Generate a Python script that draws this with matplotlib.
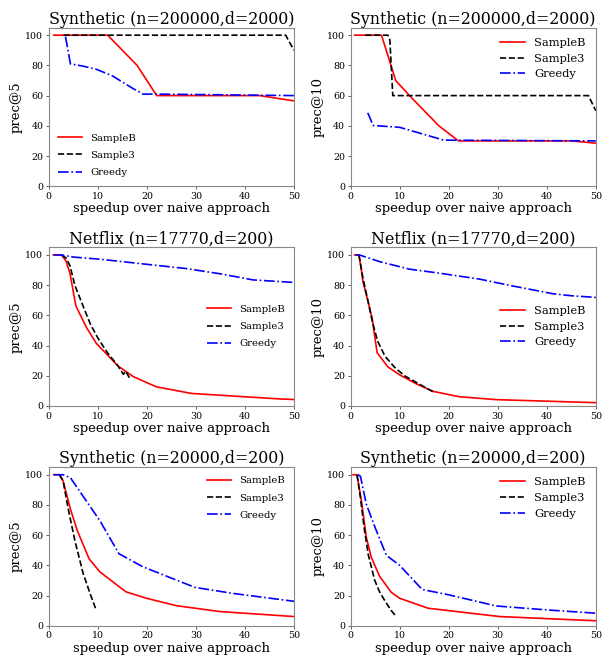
"""Precision vs. speedup for the three sampling methods on three datasets."""

import matplotlib
matplotlib.use("Agg")
import matplotlib.pyplot as plt

plt.rcParams["font.family"] = "DejaVu Serif"

TITLES = ["Synthetic (n=200000,d=2000)", "Netflix (n=17770,d=200)",
          "Synthetic (n=20000,d=200)"]
YLABELS = ["prec@5", "prec@10"]
METHODS = ["SampleB", "Sample3", "Greedy"]

# --- Synthetic n=200000 d=2000 ---
syn_big_p5_sampleb_x = [1, 12, 18, 22, 43, 50]
syn_big_p5_sampleb_y = [100, 100, 80, 60, 60, 56.5]
syn_big_p5_sample3_x = [3, 48.3, 50]
syn_big_p5_sample3_y = [100, 100, 90]
syn_big_p5_greedy_x = [3.4, 4.4, 7, 9.8, 13, 17, 19.2, 22, 50]
syn_big_p5_greedy_y = [99, 81, 79.5, 77.3, 73, 65, 61, 61, 60]

syn_big_p10_sampleb_x = [0.8, 6.3, 9.2, 12, 18, 22, 45, 50]
syn_big_p10_sampleb_y = [100, 100, 70, 60, 40, 30, 30, 28.5]
syn_big_p10_sample3_x = [3, 7.6, 8.0, 8.6, 48.5, 50]
syn_big_p10_sample3_y = [100, 100, 97, 60, 60, 50]
syn_big_p10_greedy_x = [3.5, 4.6, 10, 19, 50]
syn_big_p10_greedy_y = [48.6, 40.2, 39, 30.5, 30]

# --- Netflix ---
netflix_p5_sampleb_x = [0.9, 2.6, 3.5, 4.3, 5.5, 7.7, 9.7, 14.1, 17.2,
                        21.9, 29.1, 47.4, 50]
netflix_p5_sampleb_y = [100, 100, 96, 88, 66.4, 51.8, 41.4, 26.5, 19.5,
                        12.7, 8.3, 4.6, 4.3]
netflix_p5_sample3_x = [2.6, 3.5, 4.3, 5.3, 7, 8.5, 10, 12, 14, 14.6,
                        15.2, 15.7, 16.5]
netflix_p5_sample3_y = [100, 98, 93, 80, 66, 54, 45, 35, 27, 24, 21, 23,
                        18.2]
netflix_p5_greedy_x = [1, 2.5, 5, 10.4, 20, 28, 35, 41.6, 50]
netflix_p5_greedy_y = [100, 100, 98.6, 97.2, 93.8, 91, 87.5, 83.5, 81.8]

netflix_p10_sampleb_x = [0.8, 1.7, 2.2, 2.5, 3.5, 4.4, 5.4, 7.6, 10,
                         13.5, 16.8, 22.2, 29.7, 50]
netflix_p10_sampleb_y = [100, 100, 90, 82.4, 70, 57.7, 35.3, 25.9, 20.6,
                         14.5, 9.7, 6.1, 4.2, 2.2]
netflix_p10_sample3_x = [1.7, 2.5, 3.5, 4.5, 5.5, 7, 9, 11, 14, 16.8]
netflix_p10_sample3_y = [100, 85, 70, 55, 43, 33, 25.5, 20, 14.5, 9.4]
netflix_p10_greedy_x = [1, 1.8, 5.9, 12, 18, 26.3, 33, 41.3, 45, 50]
netflix_p10_greedy_y = [100, 100, 95.6, 90.6, 88, 84, 79.5, 74.3, 73,
                        71.9]

# --- Synthetic n=20000 d=200 ---
syn_small_p5_sampleb_x = [1, 2.1, 2.9, 4.4, 5.8, 8.2, 10.4, 15.7, 19.9,
                          26, 34.9, 50]
syn_small_p5_sampleb_y = [100, 100, 96, 77.3, 63, 44.4, 35.7, 22.5, 18.2,
                          13.3, 9.4, 6.1]
syn_small_p5_sample3_x = [2.2, 2.9, 3.9, 5.3, 7, 8.4, 9.7]
syn_small_p5_sample3_y = [100, 96, 78.3, 56.5, 34.6, 21.4, 10]
syn_small_p5_greedy_x = [1, 2.9, 4.4, 10.4, 14.3, 19.2, 29.8, 37.6, 50]
syn_small_p5_greedy_y = [100, 100, 98, 69.6, 47.7, 39, 25.4, 21.4, 16.2]

syn_small_p10_sampleb_x = [0.5, 1.3, 2.2, 3.2, 4.2, 5.9, 8.3, 10, 15.8,
                           30.4, 50]
syn_small_p10_sampleb_y = [100, 100, 82.7, 58.6, 45.5, 32.8, 22.1, 18.2,
                           11.6, 6.1, 3.3]
syn_small_p10_sample3_x = [1.3, 2.0, 2.7, 3.6, 4.9, 5.9, 6.9, 8.3, 9.3]
syn_small_p10_sample3_y = [100, 85, 66.3, 47, 30.2, 22.5, 17, 10, 6.1]
syn_small_p10_greedy_x = [1.5, 2.0, 3.2, 5, 7.3, 10, 14.6, 20, 29.7, 40,
                          50]
syn_small_p10_greedy_y = [100, 99, 80.5, 65, 46.6, 40, 24, 20.5, 13.1,
                          10.5, 8.3]

PANELS = [
    [(syn_big_p5_sampleb_x, syn_big_p5_sampleb_y),
     (syn_big_p5_sample3_x, syn_big_p5_sample3_y),
     (syn_big_p5_greedy_x, syn_big_p5_greedy_y)],
    [(syn_big_p10_sampleb_x, syn_big_p10_sampleb_y),
     (syn_big_p10_sample3_x, syn_big_p10_sample3_y),
     (syn_big_p10_greedy_x, syn_big_p10_greedy_y)],
    [(netflix_p5_sampleb_x, netflix_p5_sampleb_y),
     (netflix_p5_sample3_x, netflix_p5_sample3_y),
     (netflix_p5_greedy_x, netflix_p5_greedy_y)],
    [(netflix_p10_sampleb_x, netflix_p10_sampleb_y),
     (netflix_p10_sample3_x, netflix_p10_sample3_y),
     (netflix_p10_greedy_x, netflix_p10_greedy_y)],
    [(syn_small_p5_sampleb_x, syn_small_p5_sampleb_y),
     (syn_small_p5_sample3_x, syn_small_p5_sample3_y),
     (syn_small_p5_greedy_x, syn_small_p5_greedy_y)],
    [(syn_small_p10_sampleb_x, syn_small_p10_sampleb_y),
     (syn_small_p10_sample3_x, syn_small_p10_sample3_y),
     (syn_small_p10_greedy_x, syn_small_p10_greedy_y)],
]
LEGEND_LOCS = ["lower left", "upper right", "center right", "center right",
               "upper right", "upper right"]
STYLES = [("red", "-"), ("black", "--"), ("blue", "-.")]


def main():
    fig, axes = plt.subplots(3, 2, figsize=(6.03, 6.58), dpi=100)
    fig.subplots_adjust(left=0.081, right=0.988, bottom=0.049, top=0.958,
                        wspace=0.231, hspace=0.386)

    for i, ax in enumerate(axes.flat):
        for (xs, ys), name, (color, ls) in zip(PANELS[i], METHODS, STYLES):
            ax.plot(xs, ys, color=color, linestyle=ls, linewidth=1.2,
                    label=name)
        ax.set_xlim(0, 50)
        ax.set_ylim(0, 105)
        ax.set_xticks([0, 10, 20, 30, 40, 50])
        ax.set_yticks([0, 20, 40, 60, 80, 100])
        ax.tick_params(labelsize=6.8, length=2.5, width=0.6,
                       color="#444444", pad=1.5)
        for spine in ax.spines.values():
            spine.set_color("#888888")
            spine.set_linewidth(0.8)
        ax.set_title(TITLES[i // 2], fontsize=11.4, pad=2)
        ax.set_ylabel(YLABELS[i % 2], fontsize=9.5, labelpad=2)
        ax.set_xlabel("speedup over naive approach", fontsize=9.5,
                      labelpad=1)
        # right column legends are drawn a bit larger in the original
        if i % 2 == 0:
            ax.legend(loc=LEGEND_LOCS[i], frameon=False, fontsize=7.3,
                      handlelength=2.4, labelspacing=0.8)
        else:
            ax.legend(loc=LEGEND_LOCS[i], frameon=False, fontsize=8.2,
                      handlelength=2.2, labelspacing=0.5)

    fig.savefig("out.png")


if __name__ == "__main__":
    main()
